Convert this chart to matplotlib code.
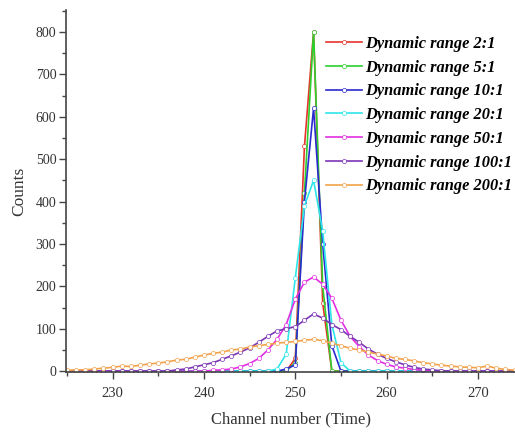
import numpy as np
import matplotlib
matplotlib.use("Agg")
import matplotlib.pyplot as plt
from matplotlib.ticker import MultipleLocator

plt.rcParams['font.family'] = ['Liberation Serif', 'DejaVu Serif']

# channel numbers 225 ... 274
channels = np.arange(225, 275)

# counts per channel, rows of 10 channels (225-234, 235-244, 245-254, 255-264, 265-274)
dr_2 = [0, 0, 0, 0, 0, 0, 0, 0, 0, 0,
        0, 0, 0, 0, 0, 0, 0, 0, 0, 0,
        0, 0, 0, 0, 0, 30, 530, 800, 160, 0,
        0, 0, 0, 0, 0, 0, 0, 0, 0, 0,
        0, 0, 0, 0, 0, 0, 0, 0, 0, 0]
dr_5 = [0, 0, 0, 0, 0, 0, 0, 0, 0, 0,
        0, 0, 0, 0, 0, 0, 0, 0, 0, 0,
        0, 0, 0, 0, 0, 20, 420, 800, 200, 0,
        0, 0, 0, 0, 0, 0, 0, 0, 0, 0,
        0, 0, 0, 0, 0, 0, 0, 0, 0, 0]
dr_10 = [0, 0, 0, 0, 0, 0, 0, 0, 0, 0,
         0, 0, 0, 0, 0, 0, 0, 0, 0, 0,
         0, 0, 0, 0, 5, 15, 400, 620, 300, 60,
         0, 0, 0, 0, 0, 0, 0, 0, 0, 0,
         0, 0, 0, 0, 0, 0, 0, 0, 0, 0]
dr_20 = [0, 0, 0, 0, 0, 0, 0, 0, 0, 0,
         0, 0, 0, 0, 0, 0, 0, 0, 0, 0,
         0, 0, 0, 5, 40, 220, 390, 450, 330, 110,
         20, 0, 0, 0, 0, 0, 0, 0, 0, 0,
         0, 0, 0, 0, 0, 0, 0, 0, 0, 0]
dr_50 = [0, 0, 0, 0, 0, 0, 0, 0, 0, 0,
         0, 0, 0, 0, 0, 0, 2, 3, 5, 10,
         18, 30, 50, 75, 110, 170, 210, 222, 205, 172,
         120, 82, 58, 38, 25, 16, 10, 7, 4, 2,
         1, 0, 0, 0, 0, 0, 0, 0, 0, 0]
dr_100 = [0, 0, 0, 0, 0, 0, 0, 0, 0, 0,
          0, 0, 3, 5, 10, 15, 20, 28, 36, 45,
          55, 68, 82, 95, 100, 105, 120, 135, 125, 110,
          98, 82, 68, 52, 40, 30, 22, 15, 9, 5,
          3, 1, 0, 0, 0, 0, 0, 0, 0, 0]
dr_200 = [2, 3, 3, 5, 7, 9, 12, 11, 14, 17,
          19, 22, 26, 28, 33, 38, 42, 45, 50, 52,
          57, 60, 63, 66, 68, 70, 73, 75, 72, 66,
          60, 54, 50, 45, 40, 36, 30, 28, 24, 20,
          17, 14, 12, 10, 9, 8, 12, 7, 4, 2]

series = [dr_2, dr_5, dr_10, dr_20, dr_50, dr_100, dr_200]
labels = ['Dynamic range 2:1', 'Dynamic range 5:1', 'Dynamic range 10:1',
          'Dynamic range 20:1', 'Dynamic range 50:1', 'Dynamic range 100:1',
          'Dynamic range 200:1']
colors = ['#e8342c', '#2ccf2c', '#2a2ad0', '#2ee6ea', '#e22ee2', '#7b35b5', '#f2a24a']

fig = plt.figure(figsize=(5.15, 4.38), dpi=100)
ax = fig.add_axes([0.1282, 0.1507, 0.8718, 0.8265])

for vals, lab, col in zip(series, labels, colors):
    ax.plot(channels, vals, '-o', color=col, lw=1.2, ms=3.0,
            mfc='white', mec=col, mew=0.5, label=lab)

ax.set_xlim(224.9, 274.05)
ax.set_ylim(-2, 852)
ax.xaxis.set_major_locator(MultipleLocator(10))
ax.xaxis.set_minor_locator(MultipleLocator(5))
ax.yaxis.set_major_locator(MultipleLocator(100))
ax.yaxis.set_minor_locator(MultipleLocator(50))
ax.set_yticks(np.arange(0, 801, 100))

for s in ['top', 'right']:
    ax.spines[s].set_visible(False)
for s in ['left', 'bottom']:
    ax.spines[s].set_color('#444444')
    ax.spines[s].set_linewidth(1.2)

ax.tick_params(which='major', direction='out', length=5, width=1, colors='#444444',
               labelcolor='#333333')
ax.tick_params(which='minor', direction='out', length=3, width=1, colors='#444444')
ax.tick_params(axis='x', labelsize=10.5, pad=6)
ax.tick_params(axis='y', labelsize=10, pad=2)

ax.set_xlabel('Channel number (Time)', fontsize=12, color='#333333', labelpad=8)
ax.set_ylabel('Counts', fontsize=12.5, color='#333333', labelpad=6)

leg = ax.legend(loc='upper left', bbox_to_anchor=(0.58, 0.928),
                frameon=False, handlelength=2.2, handletextpad=0.15,
                labelspacing=0.47, borderpad=0, borderaxespad=0,
                prop={'style': 'italic', 'weight': 'bold', 'size': 11.8})

fig.savefig('out.png', dpi=100)
